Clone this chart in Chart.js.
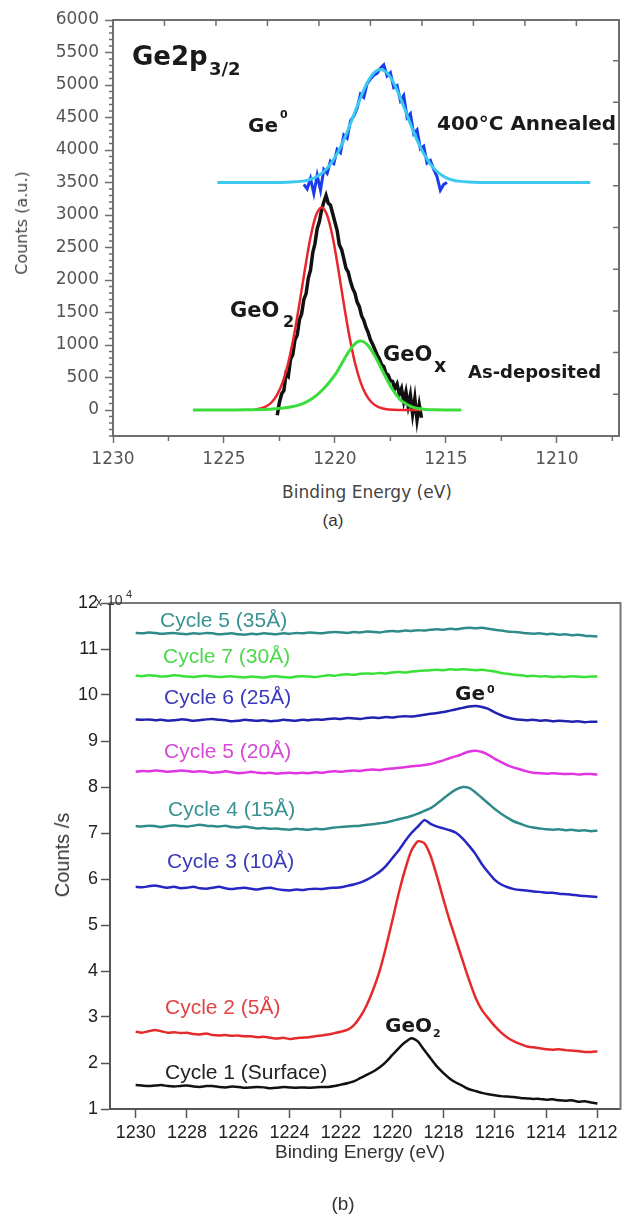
<!DOCTYPE html>
<html>
<head>
<meta charset="utf-8">
<script src="https://cdn.jsdelivr.net/npm/chart.js@4.4.1/dist/chart.umd.min.js"></script>
<style>
  body { margin: 0; background: #fff; width: 623px; height: 1215px; position: relative; overflow: hidden; }
  canvas { display: block; }
  #wrapA { position: absolute; left: 0; top: 0; }
  #wrapB { position: absolute; left: 0; top: 540px; }
  .lbl { position: absolute; white-space: nowrap; line-height: 1; }
  .dv { font-family: "DejaVu Sans", sans-serif; }
  .dvb { font-family: "DejaVu Sans", sans-serif; font-weight: bold; color: #1a1a1a; }
  .lib { font-family: "Liberation Sans", Arial, sans-serif; }
  .rot { transform: translate(-50%, -50%) rotate(-90deg); }
  .ctr { transform: translateX(-50%); }
</style>
</head>
<body>
<div id="wrapA"><canvas id="chartA" width="623" height="480"></canvas></div>
<div id="wrapB"><canvas id="chartB" width="623" height="620"></canvas></div>

<!-- (a) annotations -->
<div class="lbl dvb" style="left:132px;top:43px;font-size:26px;">Ge2p</div>
<div class="lbl dvb" style="left:209px;top:60px;font-size:18px;">3/2</div>
<div class="lbl dvb" style="left:248px;top:115px;font-size:20px;">Ge</div>
<div class="lbl dvb" style="left:280px;top:109px;font-size:11px;">0</div>
<div class="lbl dvb" style="left:437px;top:113px;font-size:20px;">400°C Annealed</div>
<div class="lbl dvb" style="left:230px;top:300px;font-size:21px;">GeO</div>
<div class="lbl dvb" style="left:283px;top:314px;font-size:16px;">2</div>
<div class="lbl dvb" style="left:383px;top:344px;font-size:21px;">GeO</div>
<div class="lbl dvb" style="left:434px;top:356px;font-size:19px;">x</div>
<div class="lbl dvb" style="left:468px;top:363px;font-size:18px;">As-deposited</div>
<div class="lbl dv rot" style="left:22px;top:223px;font-size:16px;color:#444;">Counts (a.u.)</div>
<div class="lbl dv ctr" style="left:367px;top:484px;font-size:17px;color:#444;">Binding Energy (eV)</div>
<div class="lbl lib ctr" style="left:333px;top:512px;font-size:17px;color:#333;">(a)</div>

<!-- (b) annotations -->
<div class="lbl lib" style="left:96px;top:596px;font-size:12px;color:#333;">x</div>
<div class="lbl lib" style="left:107px;top:593px;font-size:14px;color:#333;">10</div>
<div class="lbl lib" style="left:126px;top:589px;font-size:11px;color:#333;">4</div>
<div class="lbl lib" style="left:160px;top:609px;font-size:21px;color:#3a9292;">Cycle 5 (35Å)</div>
<div class="lbl lib" style="left:163px;top:645px;font-size:21px;color:#4cd84c;">Cycle 7 (30Å)</div>
<div class="lbl lib" style="left:164px;top:686px;font-size:21px;color:#3b3bba;">Cycle 6 (25Å)</div>
<div class="lbl lib" style="left:164px;top:740px;font-size:21px;color:#d64ad6;">Cycle 5 (20Å)</div>
<div class="lbl lib" style="left:168px;top:798px;font-size:21px;color:#3a9292;">Cycle 4 (15Å)</div>
<div class="lbl lib" style="left:167px;top:850px;font-size:21px;color:#3b3bba;">Cycle 3 (10Å)</div>
<div class="lbl lib" style="left:165px;top:996px;font-size:21px;color:#e04444;">Cycle 2 (5Å)</div>
<div class="lbl lib" style="left:165px;top:1061px;font-size:21px;color:#222;">Cycle 1 (Surface)</div>
<div class="lbl dvb" style="left:455px;top:683px;font-size:20px;">Ge</div>
<div class="lbl dvb" style="left:487px;top:684px;font-size:11px;">0</div>
<div class="lbl dvb" style="left:385px;top:1015px;font-size:20px;">GeO</div>
<div class="lbl dvb" style="left:433px;top:1028px;font-size:11px;">2</div>
<div class="lbl lib rot" style="left:62px;top:855px;font-size:20px;color:#333;">Counts /s</div>
<div class="lbl lib ctr" style="left:360px;top:1142px;font-size:19px;color:#333;">Binding Energy (eV)</div>
<div class="lbl lib ctr" style="left:343px;top:1194px;font-size:19px;color:#333;">(b)</div>

<script>
// Ge2p3/2 XPS spectra: (a) as-deposited vs 400°C annealed with peak fits,
// (b) spectra after each ALD cycle, offset vertically.

// ---- Panel (a) data ------------------------------------------------------

const annealFitE = [1225.3, 1223.0, 1222.45, 1221.95, 1221.45, 1221.2, 1220.95, 1220.7, 1220.45, 1220.2,
  1219.95, 1219.7, 1219.45, 1219.2, 1218.95, 1218.7, 1218.45, 1218.2, 1217.95, 1217.7,
  1217.45, 1217.2, 1216.95, 1216.7, 1216.45, 1216.2, 1215.95, 1215.7, 1215.45, 1215.2,
  1214.95, 1214.7, 1214.45, 1213.95, 1213.45, 1212.5, 1208.5];
const annealFitCounts = [3500, 3500, 3501, 3506, 3521, 3539, 3569, 3615, 3684, 3782,
  3914, 4079, 4276, 4493, 4715, 4922, 5091, 5201, 5240, 5201,
  5091, 4922, 4715, 4493, 4276, 4079, 3914, 3782, 3684, 3615,
  3569, 3539, 3521, 3506, 3501, 3500, 3500];

const annealDataE = [1221.4, 1221.25, 1221.1, 1220.95, 1220.8, 1220.65, 1220.5, 1220.35, 1220.2, 1220.05,
  1219.9, 1219.75, 1219.6, 1219.45, 1219.3, 1219.15, 1219.0, 1218.85, 1218.7, 1218.55,
  1218.4, 1218.25, 1218.1, 1217.95, 1217.8, 1217.65, 1217.5, 1217.35, 1217.2, 1217.05,
  1216.9, 1216.75, 1216.6, 1216.45, 1216.3, 1216.15, 1216.0, 1215.85, 1215.7, 1215.55,
  1215.4, 1215.25, 1215.1, 1214.95];
const annealDataCounts = [3470, 3400, 3560, 3330, 3610, 3380, 3700, 3640, 3830, 3790,
  4010, 3960, 4230, 4180, 4450, 4520, 4640, 4860, 4810, 5020,
  5090, 5150, 5180, 5260, 5310, 5140, 5190, 4960, 4990, 4760,
  4840, 4500, 4560, 4250, 4310, 4020, 4060, 3800, 3840, 3700,
  3590, 3380, 3470, 3500];

const asDepE = [1222.6, 1222.5, 1222.4, 1222.3, 1222.2, 1222.1, 1222.0, 1221.9, 1221.8, 1221.7,
  1221.6, 1221.5, 1221.4, 1221.3, 1221.2, 1221.1, 1221.0, 1220.9, 1220.8, 1220.7,
  1220.6, 1220.5, 1220.4, 1220.3, 1220.2, 1220.1, 1220.0, 1219.9, 1219.8, 1219.7,
  1219.6, 1219.5, 1219.4, 1219.3, 1219.2, 1219.1, 1219.0, 1218.9, 1218.8, 1218.7,
  1218.6, 1218.5, 1218.4, 1218.3, 1218.2, 1218.1, 1218.0, 1217.9, 1217.8, 1217.7,
  1217.6, 1217.5, 1217.4, 1217.3, 1217.2, 1217.1, 1217.0, 1216.9, 1216.8, 1216.7,
  1216.6, 1216.5, 1216.4, 1216.3, 1216.2, 1216.1];
const asDepCounts = [-80, 120, 250, 300, 560, 520, 780, 850, 1080, 1150,
  1390, 1480, 1700, 1790, 2030, 2150, 2420, 2560, 2790, 2900,
  3080, 3200, 3300, 3180, 3150, 3020, 2890, 2760, 2540, 2470,
  2330, 2180, 2120, 1980, 1870, 1800, 1660, 1590, 1450, 1380,
  1270, 1190, 1080, 1010, 930, 850, 790, 700, 670, 560,
  540, 450, 440, 330, 400, 240, 330, 130, 280, 60,
  230, -60, 180, -150, 80, -120];

const geo2FitE = [1223.6, 1223.35, 1223.1, 1222.85, 1222.6, 1222.35, 1222.1, 1221.85, 1221.6, 1221.35,
  1221.1, 1220.85, 1220.6, 1220.35, 1220.1, 1219.85, 1219.6, 1219.35, 1219.1, 1218.85,
  1218.6, 1218.35, 1218.1, 1217.85, 1217.6, 1217.1, 1216.1];
const geo2FitCounts = [9, 24, 55, 119, 236, 432, 730, 1138, 1635, 2170,
  2656, 2997, 3120, 2997, 2656, 2170, 1635, 1138, 730, 432,
  236, 119, 55, 24, 9, 1, 0];

const geoxFitE = [1226.4, 1225.0, 1224.0, 1223.0, 1222.5, 1222.0, 1221.5, 1221.0, 1220.5, 1220.0,
  1219.75, 1219.5, 1219.25, 1219.0, 1218.75, 1218.5, 1218.25, 1218.0, 1217.75, 1217.5,
  1217.25, 1217.0, 1216.5, 1216.0, 1215.5, 1215.0, 1214.3];
const geoxFitCounts = [0, 0, 2, 10, 25, 45, 90, 180, 330, 540,
  680, 830, 960, 1045, 1055, 990, 860, 700, 530, 370,
  240, 140, 45, 12, 3, 0, 0];

// axis ticks, panel (a)
const xMajorA = [1230, 1225, 1220, 1215, 1210];
const xMinorA = [1227.5, 1222.5, 1217.5, 1212.5, 1207.5];
const yMajorA = [0, 500, 1000, 1500, 2000, 2500, 3000, 3500, 4000, 4500, 5000, 5500, 6000];
const xTopTicksA = [1227.68, 1225.36, 1223.04, 1220.72, 1218.4, 1216.08, 1213.76, 1211.44, 1209.12];
const yRightTicksA = [242, 883, 1525, 2166, 2808, 3450, 4091, 4733, 5374];

// ---- Panel (b) data ------------------------------------------------------

const energyB = [1230, 1229.75, 1229.5, 1229.25, 1229, 1228.75, 1228.5, 1228.25, 1228, 1227.75,
  1227.5, 1227.25, 1227, 1226.75, 1226.5, 1226.25, 1226, 1225.75, 1225.5, 1225.25,
  1225, 1224.75, 1224.5, 1224.25, 1224, 1223.75, 1223.5, 1223.25, 1223, 1222.75,
  1222.5, 1222.25, 1222, 1221.75, 1221.5, 1221.25, 1221, 1220.75, 1220.5, 1220.25,
  1220, 1219.75, 1219.5, 1219.25, 1219, 1218.75, 1218.5, 1218.25, 1218, 1217.75,
  1217.5, 1217.25, 1217, 1216.75, 1216.5, 1216.25, 1216, 1215.75, 1215.5, 1215.25,
  1215, 1214.75, 1214.5, 1214.25, 1214, 1213.75, 1213.5, 1213.25, 1213, 1212.75,
  1212.5, 1212.25, 1212];

// counts/s in units of 1e4
const c1Surface = [1.52, 1.51, 1.50, 1.51, 1.52, 1.50, 1.49, 1.50, 1.51, 1.49,
  1.48, 1.50, 1.50, 1.48, 1.47, 1.49, 1.48, 1.46, 1.47, 1.48,
  1.47, 1.45, 1.46, 1.48, 1.47, 1.46, 1.47, 1.46, 1.47, 1.48,
  1.48, 1.50, 1.53, 1.56, 1.60, 1.67, 1.74, 1.81, 1.90, 2.02,
  2.17, 2.32, 2.45, 2.54, 2.47, 2.28, 2.10, 1.92, 1.78, 1.66,
  1.57, 1.50, 1.43, 1.39, 1.35, 1.32, 1.30, 1.28, 1.27, 1.26,
  1.24, 1.23, 1.22, 1.22, 1.20, 1.21, 1.19, 1.18, 1.19, 1.16,
  1.17, 1.14, 1.12];
const c2_5A = [2.68, 2.66, 2.69, 2.72, 2.69, 2.66, 2.67, 2.65, 2.66, 2.63,
  2.62, 2.64, 2.61, 2.60, 2.61, 2.59, 2.60, 2.58, 2.58, 2.56,
  2.57, 2.55, 2.53, 2.55, 2.52, 2.54, 2.55, 2.56, 2.58, 2.60,
  2.62, 2.65, 2.68, 2.72, 2.82, 3.00, 3.25, 3.58, 3.98, 4.50,
  5.08, 5.68, 6.20, 6.62, 6.82, 6.78, 6.50, 6.05, 5.55, 5.08,
  4.65, 4.22, 3.80, 3.42, 3.15, 2.97, 2.80, 2.66, 2.55, 2.47,
  2.41, 2.36, 2.34, 2.32, 2.30, 2.29, 2.30, 2.28, 2.27, 2.26,
  2.24, 2.24, 2.25];
const c3_10A = [5.83, 5.82, 5.84, 5.86, 5.83, 5.81, 5.83, 5.80, 5.81, 5.83,
  5.80, 5.79, 5.81, 5.83, 5.80, 5.78, 5.80, 5.81, 5.79, 5.77,
  5.80, 5.81, 5.78, 5.76, 5.75, 5.77, 5.76, 5.78, 5.79, 5.78,
  5.80, 5.81, 5.82, 5.85, 5.88, 5.92, 5.98, 6.06, 6.15, 6.28,
  6.45, 6.62, 6.82, 7.00, 7.14, 7.28, 7.20, 7.14, 7.10, 7.06,
  7.00, 6.88, 6.72, 6.54, 6.32, 6.14, 5.98, 5.88, 5.82, 5.78,
  5.76, 5.75, 5.73, 5.72, 5.70, 5.70, 5.68, 5.67, 5.66, 5.64,
  5.63, 5.62, 5.61];
const c4_15A = [7.15, 7.14, 7.16, 7.15, 7.13, 7.15, 7.17, 7.15, 7.14, 7.16,
  7.18, 7.16, 7.15, 7.14, 7.16, 7.13, 7.12, 7.14, 7.12, 7.10,
  7.11, 7.09, 7.10, 7.08, 7.07, 7.09, 7.08, 7.07, 7.09, 7.08,
  7.10, 7.12, 7.13, 7.14, 7.15, 7.16, 7.18, 7.19, 7.21, 7.23,
  7.26, 7.30, 7.33, 7.37, 7.42, 7.48, 7.54, 7.64, 7.75, 7.86,
  7.95, 8.00, 7.98, 7.88, 7.76, 7.64, 7.52, 7.42, 7.33, 7.25,
  7.20, 7.15, 7.12, 7.10, 7.08, 7.07, 7.08, 7.06, 7.07, 7.05,
  7.06, 7.04, 7.05];
const c5_20A = [8.33, 8.35, 8.34, 8.36, 8.35, 8.33, 8.34, 8.36, 8.35, 8.33,
  8.34, 8.33, 8.31, 8.32, 8.34, 8.32, 8.30, 8.31, 8.33, 8.31,
  8.30, 8.31, 8.29, 8.30, 8.31, 8.30, 8.31, 8.30, 8.32, 8.31,
  8.33, 8.34, 8.33, 8.35, 8.36, 8.35, 8.37, 8.38, 8.37, 8.39,
  8.40, 8.42, 8.43, 8.45, 8.46, 8.48, 8.50, 8.54, 8.58, 8.63,
  8.67, 8.72, 8.77, 8.79, 8.76, 8.70, 8.61, 8.54, 8.47, 8.42,
  8.38, 8.34, 8.31, 8.30, 8.29, 8.30, 8.29, 8.28, 8.29, 8.27,
  8.28, 8.28, 8.27];
const c6_25A = [9.47, 9.46, 9.47, 9.45, 9.46, 9.44, 9.45, 9.47, 9.46, 9.44,
  9.45, 9.47, 9.48, 9.46, 9.45, 9.43, 9.44, 9.46, 9.45, 9.44,
  9.45, 9.43, 9.44, 9.46, 9.45, 9.44, 9.46, 9.45, 9.47, 9.46,
  9.48, 9.49, 9.48, 9.50, 9.49, 9.48, 9.50, 9.51, 9.50, 9.52,
  9.51, 9.53, 9.54, 9.53, 9.55, 9.57, 9.59, 9.61, 9.63, 9.66,
  9.69, 9.72, 9.75, 9.76, 9.74, 9.70, 9.62, 9.56, 9.51, 9.48,
  9.46, 9.45, 9.46, 9.44, 9.45, 9.43, 9.44, 9.43, 9.42, 9.43,
  9.41, 9.42, 9.42];
const c7_30A = [10.42, 10.41, 10.43, 10.42, 10.40, 10.41, 10.43, 10.42, 10.40, 10.39,
  10.41, 10.42, 10.40, 10.39, 10.40, 10.41, 10.39, 10.38, 10.40, 10.39,
  10.38, 10.40, 10.41, 10.39, 10.38, 10.40, 10.41, 10.40, 10.39, 10.41,
  10.43, 10.42, 10.44, 10.45, 10.44, 10.46, 10.47, 10.46, 10.48, 10.47,
  10.49, 10.50, 10.49, 10.51, 10.52, 10.53, 10.54, 10.55, 10.54, 10.56,
  10.55, 10.56, 10.55, 10.54, 10.55, 10.53, 10.51, 10.48, 10.46, 10.44,
  10.43, 10.41, 10.42, 10.40, 10.41, 10.39, 10.40, 10.39, 10.41, 10.40,
  10.39, 10.40, 10.40];
const c5_35A = [11.35, 11.34, 11.36, 11.35, 11.33, 11.34, 11.35, 11.33, 11.32, 11.34,
  11.33, 11.35, 11.34, 11.32, 11.33, 11.34, 11.32, 11.31, 11.33, 11.32,
  11.34, 11.33, 11.32, 11.34, 11.33, 11.35, 11.34, 11.36, 11.35, 11.34,
  11.36, 11.37, 11.36, 11.35, 11.37, 11.36, 11.38, 11.37, 11.36, 11.38,
  11.39, 11.38, 11.40, 11.39, 11.41, 11.40, 11.42, 11.43, 11.42, 11.44,
  11.43, 11.45, 11.46, 11.45, 11.46, 11.44, 11.42, 11.40, 11.38, 11.37,
  11.36, 11.34, 11.33, 11.34, 11.32, 11.33, 11.31, 11.32, 11.30, 11.31,
  11.29, 11.28, 11.27];

// axis ticks, panel (b)
const xMajorB = [1230, 1228, 1226, 1224, 1222, 1220, 1218, 1216, 1214, 1212];
const yMajorB = [1, 2, 3, 4, 5, 6, 7, 8, 9, 10, 11, 12];

// ---- Helpers -------------------------------------------------------------

function pts(xs, ys) {
  return xs.map((x, i) => ({ x, y: ys[i] }));
}

function line(label, xs, ys, color, width, tension) {
  return {
    label,
    data: pts(xs, ys),
    borderColor: color,
    backgroundColor: color,
    borderWidth: width,
    tension: tension || 0,
    pointRadius: 0,
    fill: false,
  };
}

function fixedTicks(values) {
  return (scale) => {
    scale.ticks = values.map((v) => ({ value: v }));
  };
}

// plain numbers, no thousands separator
const plain = (v) => String(v);

// Frame + extra tick marks the library has no option for.
function framePlugin(opts) {
  return {
    id: "frame",
    afterDraw(chart) {
      const { ctx, chartArea: a, scales } = chart;
      const x = scales.x;
      const y = scales.y;
      ctx.save();
      ctx.strokeStyle = opts.color;
      ctx.lineWidth = opts.width;
      ctx.beginPath();
      ctx.moveTo(a.left - 1, a.top);
      ctx.lineTo(a.right, a.top);
      ctx.lineTo(a.right, a.bottom + 1);
      ctx.stroke();

      ctx.lineWidth = 1.5;
      ctx.beginPath();
      (opts.xMinor || []).forEach((v) => {
        const px = x.getPixelForValue(v);
        ctx.moveTo(px, a.bottom);
        ctx.lineTo(px, a.bottom + 5);
      });
      (opts.yMinor || []).forEach((v) => {
        const py = y.getPixelForValue(v);
        ctx.moveTo(a.left - 4, py);
        ctx.lineTo(a.left, py);
      });
      (opts.xTop || []).forEach((v) => {
        const px = x.getPixelForValue(v);
        ctx.moveTo(px, a.top);
        ctx.lineTo(px, a.top + 6);
      });
      (opts.yRight || []).forEach((v) => {
        const py = y.getPixelForValue(v);
        ctx.moveTo(a.right, py);
        ctx.lineTo(a.right - 6, py);
      });
      ctx.stroke();
      ctx.restore();
    },
  };
}

// minor y ticks every 100 counts (between the labelled 500s)
const yMinorA = [];
for (let v = -400; v <= 6000; v += 100) {
  if (v % 500 !== 0) yMinorA.push(v);
}

// ---- Panel (a) -----------------------------------------------------------

const AXIS_A = "#6e6e6e";
const tickFontA = { family: "DejaVu Sans", size: 17 };

new Chart(document.getElementById("chartA"), {
  type: "line",
  data: {
    datasets: [
      line("GeOx fit", geoxFitE, geoxFitCounts, "#3cdc3c", 3, 0.3),
      line("GeO2 fit", geo2FitE, geo2FitCounts, "#e8262c", 2.5, 0.3),
      line("Annealed fit", annealFitE, annealFitCounts, "#3cc9f0", 3, 0.3),
      line("Annealed", annealDataE, annealDataCounts, "#1a3ced", 3),
      line("As-deposited", asDepE, asDepCounts, "#111111", 3.5),
    ],
  },
  options: {
    responsive: false,
    animation: false,
    layout: { padding: { top: 20, right: 4, left: 0, bottom: 0 } },
    plugins: { legend: { display: false }, tooltip: { enabled: false } },
    scales: {
      x: {
        type: "linear",
        reverse: true,
        min: 1207.2,
        max: 1230,
        afterBuildTicks: fixedTicks(xMajorA),
        afterFit: (s) => { s.height = 44; },
        ticks: { autoSkip: false, maxRotation: 0, color: "#555", font: tickFontA, padding: 6, callback: plain },
        grid: { drawOnChartArea: false, tickLength: 7, tickWidth: 1.5, tickColor: AXIS_A },
        border: { color: AXIS_A, width: 2 },
      },
      y: {
        type: "linear",
        min: -400,
        max: 6000,
        afterBuildTicks: fixedTicks(yMajorA),
        afterFit: (s) => { s.width = 113; },
        ticks: { autoSkip: false, color: "#555", font: tickFontA, padding: 6, callback: plain },
        grid: { drawOnChartArea: false, tickLength: 8, tickWidth: 1.5, tickColor: AXIS_A },
        border: { color: AXIS_A, width: 2 },
      },
    },
  },
  plugins: [
    framePlugin({ color: AXIS_A, width: 2, xMinor: xMinorA, yMinor: yMinorA, xTop: xTopTicksA, yRight: yRightTicksA }),
  ],
});

// ---- Panel (b) -----------------------------------------------------------

const AXIS_B = "#555";
const tickFontB = { family: "Liberation Sans", size: 18 };

new Chart(document.getElementById("chartB"), {
  type: "line",
  data: {
    datasets: [
      line("Cycle 5 (35Å)", energyB, c5_35A, "#2e8b8a", 2.5, 0.2),
      line("Cycle 7 (30Å)", energyB, c7_30A, "#38e038", 2.5, 0.2),
      line("Cycle 6 (25Å)", energyB, c6_25A, "#2222b0", 2.5, 0.2),
      line("Cycle 5 (20Å)", energyB, c5_20A, "#e035e0", 2.5, 0.2),
      line("Cycle 4 (15Å)", energyB, c4_15A, "#2e8b8a", 2.5, 0.2),
      line("Cycle 3 (10Å)", energyB, c3_10A, "#2626c4", 2.5, 0.2),
      line("Cycle 2 (5Å)", energyB, c2_5A, "#e42a2a", 2.5, 0.2),
      line("Cycle 1 (Surface)", energyB, c1Surface, "#111111", 2.5, 0.2),
    ],
  },
  options: {
    responsive: false,
    animation: false,
    layout: { padding: { top: 63, right: 2.5, left: 0, bottom: 0 } },
    plugins: { legend: { display: false }, tooltip: { enabled: false } },
    scales: {
      x: {
        type: "linear",
        reverse: true,
        min: 1211.1,
        max: 1231,
        afterBuildTicks: fixedTicks(xMajorB),
        afterFit: (s) => { s.height = 51; },
        ticks: { autoSkip: false, maxRotation: 0, color: "#222", font: tickFontB, padding: 4, callback: plain },
        grid: { drawOnChartArea: false, tickLength: 9, tickWidth: 1.5, tickColor: AXIS_B },
        border: { color: AXIS_B, width: 2 },
      },
      y: {
        type: "linear",
        min: 1,
        max: 12,
        afterBuildTicks: fixedTicks(yMajorB),
        afterFit: (s) => { s.width = 110; },
        ticks: { autoSkip: false, color: "#222", font: tickFontB, padding: 3, callback: plain },
        grid: { drawOnChartArea: false, tickLength: 9, tickWidth: 1.5, tickColor: AXIS_B },
        border: { color: AXIS_B, width: 2 },
      },
    },
  },
  plugins: [framePlugin({ color: "#777", width: 2 })],
});
</script>
</body>
</html>
